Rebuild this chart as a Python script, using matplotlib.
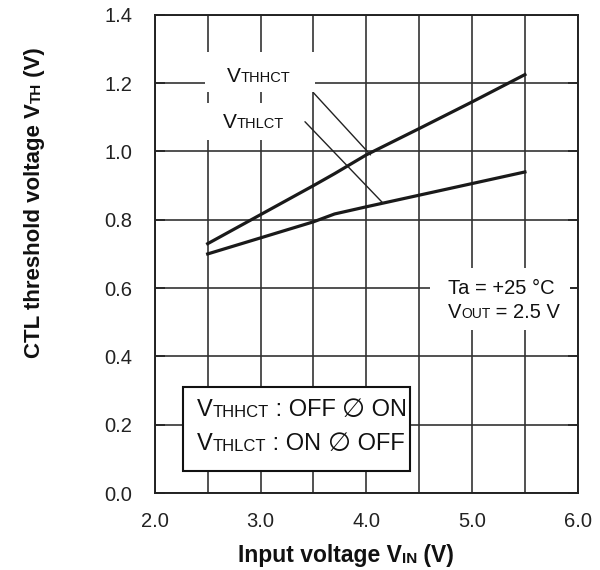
import matplotlib
matplotlib.use('Agg')
import matplotlib.pyplot as plt
import numpy as np

# Input voltage (V) and threshold voltages
vin = [2.5, 3.0, 3.5, 3.7, 4.0, 4.5, 5.0, 5.5]
vthhct = [0.73, 0.815, 0.90, 0.935, 0.99, 1.067, 1.145, 1.225]
vthlct = [0.70, 0.747, 0.794, 0.817, 0.838, 0.872, 0.906, 0.94]

xticks = [2.0, 3.0, 4.0, 5.0, 6.0]
yticks = [0.0, 0.2, 0.4, 0.6, 0.8, 1.0, 1.2, 1.4]

plt.rcParams['font.family'] = ['Liberation Sans', 'DejaVu Sans']

K = 0.21  # descent fraction, used to line up baselines of mixed sizes


def mixed_text(ax, x, y, parts, coords, rotation=0, weight='normal'):
    # draw "V" + smaller caps + rest, chained one after another
    s, fs = parts[0]
    if rotation == 0:
        t = ax.text(x, y, s, fontsize=fs, transform=coords, ha='left',
                    va='bottom', weight=weight, zorder=5, color='#111111')
    else:
        t = ax.text(x, y, s, fontsize=fs, transform=coords, ha='right',
                    va='bottom', rotation=90, weight=weight, zorder=5,
                    color='#111111')
    prev = fs
    for s, fs in parts[1:]:
        d = K * (prev - fs)
        if rotation == 0:
            t = ax.annotate(s, xy=(1, 0), xycoords=t, xytext=(0, d),
                            textcoords='offset points', fontsize=fs,
                            ha='left', va='bottom', weight=weight, zorder=5,
                            color='#111111')
        else:
            t = ax.annotate(s, xy=(1, 1), xycoords=t, xytext=(-d, 0),
                            textcoords='offset points', fontsize=fs,
                            ha='right', va='bottom', rotation=90,
                            weight=weight, zorder=5, color='#111111')
        prev = fs
    return t


def blank(ax, x0, y0, x1, y1):
    # white patch that hides the grid behind a label
    ax.add_patch(plt.Rectangle((x0, y0), x1 - x0, y1 - y0, fc='white',
                               ec='none', zorder=2))


fig = plt.figure(figsize=(6, 5.7), dpi=100)
ax = fig.add_axes([0.258, 0.135, 0.705, 0.839])

ax.plot(vin, vthhct, color='#1a1a1a', lw=2.3, zorder=3)
ax.plot(vin, vthlct, color='#1a1a1a', lw=2.3, zorder=3)

ax.set_xlim(2.0, 6.0)
ax.set_ylim(0.0, 1.4)
xpos = np.arange(2.0, 6.01, 0.5)
ax.set_xticks(xpos)
ax.set_xticklabels(['%.1f' % v if v in xticks else '' for v in xpos])
ax.set_yticks(yticks)
ax.set_yticklabels(['%.1f' % v for v in yticks])
ax.grid(True, color='#333333', lw=1.2)
ax.tick_params(axis='x', length=0, pad=14, labelsize=14.5, colors='#222222')
ax.tick_params(axis='y', direction='in', length=7, width=1.2, pad=16,
               labelsize=14.5, colors='#222222', right=True)
for sp in ax.spines.values():
    sp.set_color('#222222')
    sp.set_linewidth(1.4)

# curve labels with white patches over the grid
blank(ax, 2.473, 1.175, 3.513, 1.292)
blank(ax, 2.473, 1.034, 3.37, 1.142)
mixed_text(ax, 2.681, 1.192, [('V', 15), ('THHCT', 10.5)], ax.transData)
mixed_text(ax, 2.643, 1.057, [('V', 15), ('THLCT', 10.5)], ax.transData)

ax.annotate('', xy=(4.04, 0.99), xytext=(3.5, 1.172),
            arrowprops=dict(arrowstyle='-', color='#222222', lw=1.0,
                            shrinkA=0, shrinkB=0), zorder=4)
ax.annotate('', xy=(4.16, 0.848), xytext=(3.42, 1.087),
            arrowprops=dict(arrowstyle='-', color='#222222', lw=1.0,
                            shrinkA=0, shrinkB=0), zorder=4)

# conditions
blank(ax, 4.6, 0.477, 5.93, 0.659)
mixed_text(ax, 4.77, 0.571, [('Ta = +25 °C', 14.5)], ax.transData)
mixed_text(ax, 4.77, 0.50, [('V', 14.5), ('OUT', 10), (' = 2.5 V', 14.5)], ax.transData)

# legend box
ax.add_patch(plt.Rectangle((2.265, 0.064), 2.145, 0.246, fc='white',
                           ec='#111111', lw=1.5, zorder=4))
mixed_text(ax, 2.397, 0.211, [('V', 17), ('THHCT', 12), (' : OFF ', 17),
                              ('∅', 19), (' ON', 17)], ax.transData)
mixed_text(ax, 2.397, 0.111, [('V', 17), ('THLCT', 12), (' : ON ', 17),
                              ('∅', 19), (' OFF', 17)], ax.transData)

# axis labels
mixed_text(ax, 238 / 600, 0.005, [('Input voltage V', 16.5), ('IN', 11), (' (V)', 16.5)],
           fig.transFigure, weight='bold')
mixed_text(ax, 0.075, (570 - 358) / 570, [('CTL threshold voltage V', 16), ('TH', 11), (' (V)', 16)],
           fig.transFigure, rotation=90, weight='bold')

fig.savefig('out.png', dpi=100)
